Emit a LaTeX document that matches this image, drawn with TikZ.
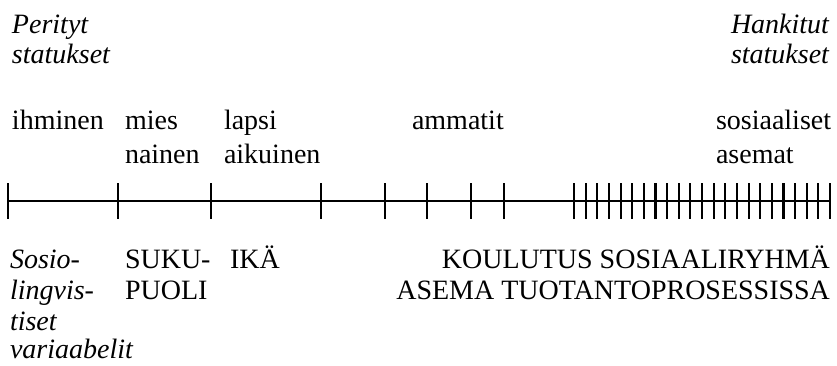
\documentclass[tikz,border=0pt]{standalone}
\usepackage{fontspec}
\setmainfont{Liberation Serif}
\begin{document}
\begin{tikzpicture}[x=1pt,y=-1pt,
  lab/.style={inner sep=0pt,outer sep=0pt,font=\fontsize{28}{32}\selectfont},
  labw/.style={lab,anchor=base west},
  labe/.style={lab,anchor=base east},
  axis/.style={line width=1.8pt,black},
  tick/.style={line width=2.1pt,black}]
\useasboundingbox (0,0) rectangle (837,365);
% headings
\node[labw] (per1) at (12,33) {\itshape Perityt};
\node[labw] (per2) at (12,63) {\itshape statukset};
\node[labe] (han1) at (829,33) {\itshape Hankitut};
\node[labe] (han2) at (829,63) {\itshape statukset};
% upper labels
\node[labw] (ihm) at (12,129) {ihminen};
\node[labw] (mies) at (125,129) {mies};
\node[labw] (nai) at (125,163) {nainen};
\node[labw] (lap) at (224,129) {lapsi};
\node[labw] (aik) at (224,163) {aikuinen};
\node[labw] (amm) at (412,129) {ammatit};
\node[labw] (sos) at (716,129) {sosiaaliset};
\node[labw] (ase) at (716,163) {asemat};
% axis
\coordinate (L) at (8,201);
\coordinate (R) at (831,201);
\draw[axis] (L) -- (R);
\foreach \x in {8,118,211,321,385,427,471,504}
  \draw[tick] (\x,183) -- (\x,219);
\foreach \i in {0,...,22}
  \draw[tick] ({574+\i*11.636},183) -- ({574+\i*11.636},219);
% lower labels
\node[labw] (s1) at (10,268) {\itshape Sosio-};
\node[labw] (s2) at (10,299) {\itshape lingvis-};
\node[labw] (s3) at (10,330) {\itshape tiset};
\node[labw] (s4) at (10,358) {\itshape variaabelit};
\node[labw] (suk1) at (125,268) {SUKU-};
\node[labw] (suk2) at (125,299) {PUOLI};
\node[labw] (ika) at (230,268) {IKÄ};
\node[labe] (kou) at (830,268) {KOULUTUS SOSIAALIRYHMÄ};
\node[labe] (tuo) at (830,299) {ASEMA TUOTANTOPROSESSISSA};
\end{tikzpicture}
\end{document}
